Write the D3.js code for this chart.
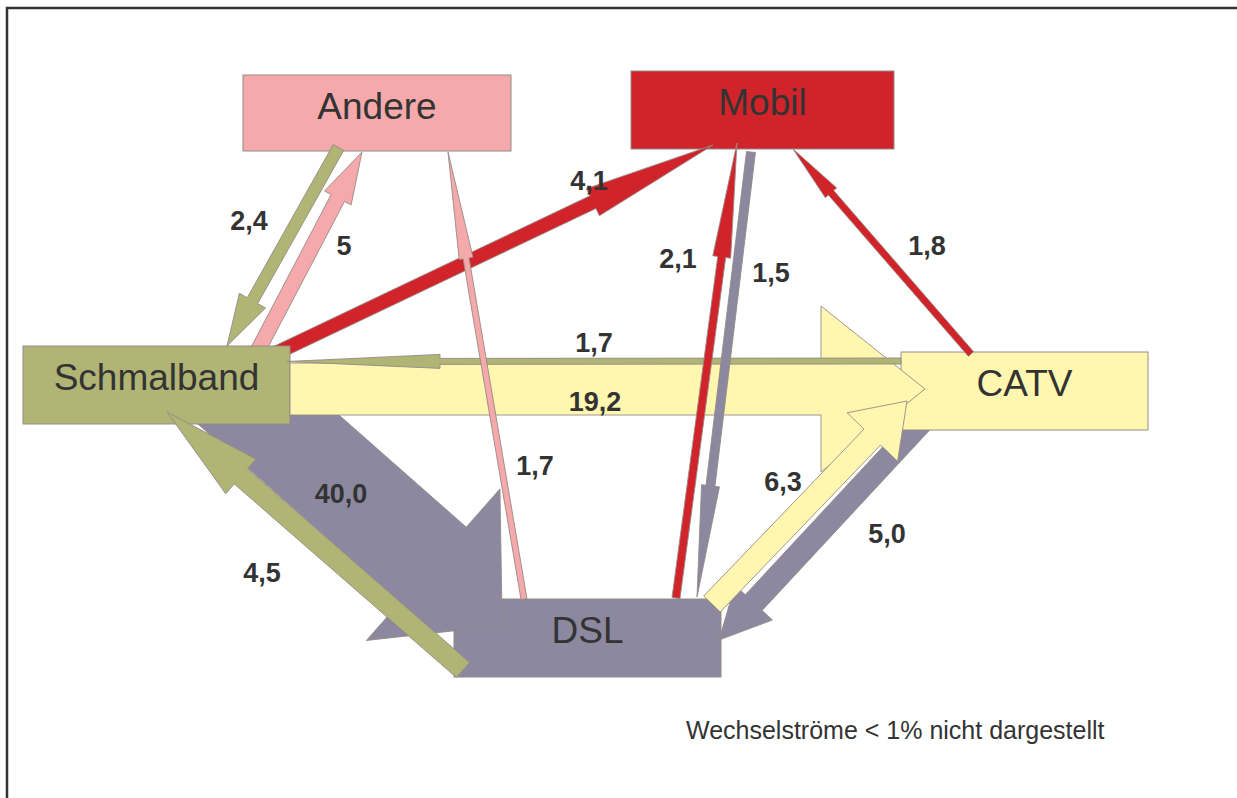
<!DOCTYPE html>
<html><head><meta charset="utf-8">
<script src="https://cdn.jsdelivr.net/npm/d3@7"></script>
<style>html,body{margin:0;padding:0;background:#fff;overflow:hidden}svg{display:block}</style>
</head><body><svg id="c" width="1237" height="798"></svg>
<script>
// ---------- data ----------
const nodes = ["Schmalband", "DSL", "CATV", "Mobil", "Andere"];
const flowFrom  = ["Schmalband","Schmalband","CATV","Schmalband","DSL","Andere","Schmalband","DSL","DSL","Mobil","CATV","DSL","CATV"];
const flowTo    = ["DSL","CATV","Schmalband","Mobil","Schmalband","Schmalband","Andere","Andere","Mobil","DSL","Mobil","CATV","DSL"];
const flowValue = [40.0, 19.2, 1.7, 4.1, 4.5, 2.4, 5, 1.7, 2.1, 1.5, 1.8, 6.3, 5.0];
const flowLabel = ["40,0","19,2","1,7","4,1","4,5","2,4","5","1,7","2,1","1,5","1,8","6,3","5,0"];
const note = "Wechselströme < 1% nicht dargestellt";

// ---------- styles ----------
const nodeColor = d3.scaleOrdinal()
  .domain(nodes)
  .range(["#b0b474", "#8c889f", "#fff7b0", "#d1232a", "#f5a9ab"]);
const edgeStroke = "#958a86";
const textColor = "#333333";

// ---------- layout (diagram geometry) ----------
const nodeBox = {
  Andere:     {x:243, y:75,  w:268, h:76},
  Mobil:      {x:631, y:71,  w:263, h:78},
  Schmalband: {x:23,  y:346, w:267, h:78},
  CATV:       {x:901, y:352, w:247, h:78},
  DSL:        {x:454, y:599, w:267, h:78}
};
// arrow geometry per flow index: tail, tip, shaft width, head width, head length, label pos
const arrowGeo = [
  {tail:[185.7,346.6], tip:[502.2,625.5], sw:100, hw:202, hl:92, clipY:390, lx:341, ly:503},
  {tail:[290,389],     tip:[925,389],     sw:52,  hw:166, hl:104, lx:595, ly:411},
  {tail:[901,361],     tip:[287,361.5],   sw:6,   hw:14,  hl:153, lx:594, ly:352},
  {tail:[274,354],     tip:[713,145],     sw:14,  hw:30,  hl:133, lx:589, ly:190},
  {tail:[463,670],     tip:[167,412],     sw:20,  hw:46,  hl:98,  lx:262, ly:582},
  {tail:[338.5,147.5], tip:[227,346],     sw:12,  hw:30,  hl:52,  lx:249, ly:230},
  {tail:[256,354],     tip:[362,152],     sw:15,  hw:30,  hl:52,  lx:344, ly:255},
  {tail:[524,599],     tip:[448,152],     sw:6,   hw:14,  hl:108, lx:535, ly:475},
  {tail:[676,598],     tip:[737,143],     sw:8,   hw:18,  hl:115, lx:678, ly:268},
  {tail:[751,152],     tip:[697,597],     sw:9,   hw:18,  hl:112, lx:771, ly:282},
  {tail:[971,354],     tip:[793,149],     sw:7,   hw:15,  hl:58,  lx:927, ly:255},
  {tail:[712,604],     tip:[907,401],     sw:23,  hw:70,  hl:50,  lx:783, ly:491},
  {tail:[928,415],     tip:[719,640],     sw:23,  hw:51,  hl:51,  lx:887, ly:543}
];
// drawing order (z-order)
const drawOrder = ["n:Mobil","n:Andere","n:DSL","f:0","f:3","f:5","f:6","n:Schmalband",
  "f:12","n:CATV","f:1","f:11","f:2","f:4","f:7","f:8","f:9","f:10"];

// ---------- drawing ----------
const svg = d3.select("#c");
svg.append("rect").attr("x",7).attr("y",8).attr("width",1400).attr("height",1000)
  .attr("fill","#fff").attr("stroke","#333").attr("stroke-width",2.5);

const defs = svg.append("defs");
const line = d3.line().curve(d3.curveLinearClosed);

function arrowPts(g){
  const [tx,ty]=g.tail, [px,py]=g.tip;
  const dx=px-tx, dy=py-ty, L=Math.hypot(dx,dy);
  const ux=dx/L, uy=dy/L, nx=-uy, ny=ux;
  const bx=px-ux*g.hl, by=py-uy*g.hl;
  const s=g.sw/2, h=g.hw/2;
  return [[tx+nx*s,ty+ny*s],[bx+nx*s,by+ny*s],[bx+nx*h,by+ny*h],[px,py],
          [bx-nx*h,by-ny*h],[bx-nx*s,by-ny*s],[tx-nx*s,ty-ny*s]];
}

const flows = flowFrom.map((f,i)=>({from:f,to:flowTo[i],value:flowValue[i],label:flowLabel[i],geo:arrowGeo[i]}));

drawOrder.forEach(item=>{
  const [kind,key] = item.split(":");
  if(kind==="n"){
    const b = nodeBox[key];
    svg.append("rect").attr("x",b.x).attr("y",b.y).attr("width",b.w).attr("height",b.h)
      .attr("fill",nodeColor(key)).attr("stroke",edgeStroke).attr("stroke-width",1);
  } else {
    const i=+key, fl=flows[i], g=fl.geo;
    const p = svg.append("path").attr("d",line(arrowPts(g)))
      .attr("fill",nodeColor(fl.to)).attr("stroke",edgeStroke).attr("stroke-width",0.9)
      .attr("stroke-linejoin","miter");
    if(g.clipY!==undefined){
      const id="clip"+i;
      defs.append("clipPath").attr("id",id).append("rect")
        .attr("x",0).attr("y",g.clipY).attr("width",1237).attr("height",798-g.clipY);
      p.attr("clip-path",`url(#${id})`);
    }
  }
});

// node labels
svg.append("g").selectAll("text").data(nodes).join("text")
  .attr("x",d=>nodeBox[d].x+nodeBox[d].w/2)
  .attr("y",d=>nodeBox[d].y+44)
  .attr("text-anchor","middle")
  .attr("font-family","Liberation Sans, Arial, sans-serif")
  .attr("font-size",37).attr("fill",textColor)
  .text(d=>d);

// flow value labels
svg.append("g").selectAll("text").data(flows).join("text")
  .attr("x",d=>d.geo.lx).attr("y",d=>d.geo.ly)
  .attr("text-anchor","middle")
  .attr("font-family","Liberation Sans, Arial, sans-serif")
  .attr("font-weight","bold").attr("font-size",27).attr("fill",textColor)
  .text(d=>d.label);

// footnote
svg.append("text").attr("x",686).attr("y",739)
  .attr("font-family","Liberation Sans, Arial, sans-serif")
  .attr("font-size",25).attr("fill",textColor).text(note);
</script>
</body></html>
